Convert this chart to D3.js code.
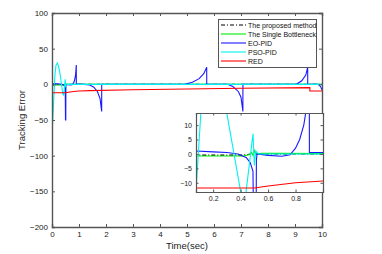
<!DOCTYPE html>
<html><head><meta charset="utf-8">
<script src="https://cdn.jsdelivr.net/npm/d3@7"></script>
<style>body{margin:0;background:#fff}svg{display:block}text{font-family:"Liberation Sans",Arial,sans-serif}</style>
</head><body><svg id="c" width="382" height="254"></svg>
<script>
const xTicks=[0,1,2,3,4,5,6,7,8,9,10];
const yTicks=[-200,-150,-100,-50,0,50,100];
const insetXTicks=[0.2,0.4,0.6,0.8];
const insetYTicks=[-10,-5,0,5,10];
const seriesNames=["The proposed method","The Single Bottleneck","EO-PID","PSO-PID","RED"];
const propT=[0,0.02,0.075,0.4,0.45,0.5,0.52,0.6,1,10];
const propV=[0,-1,-0.4,-0.4,-0.2,0.1,0,0,0,0];
const singT=[0,0.02,0.075,0.42,0.46,0.48,0.49,0.5,0.51,0.55,0.7,1,10];
const singV=[0,-1.5,-0.7,-0.7,-0.3,0.5,-0.5,1.2,0,0.2,0.2,0.1,0];
const eoT=[0,0.075,0.2,0.3,0.38,0.44,0.47,0.49,0.5,0.51,0.515,0.52,0.6,0.7,0.76,0.8,0.83,0.86,0.88,0.9,0.901,0.95,1.0,1.2,1.4,1.55,1.68,1.78,1.84,1.841,2.5,4.9,5.2,5.45,5.62,5.73,5.731,6.5,6.7,6.9,7.0,7.07,7.071,9.05,9.25,9.4,9.47,9.471,9.85,9.95,10];
const eoV=[0,1,0.7,0.5,0,-1.2,-3,-6,-50,-50,-2,0,-0.5,-0.8,-0.3,2,5,10,16,27,0.5,0.5,0.5,0,-1,-4,-10,-20,-38,0,0,0,3,8,15,24,0,0,-3,-10,-18,-38,0,0,5,13,24,0,0,-3,-8];
const psoT=[0,0.001,0.02,0.075,0.11,0.15,0.2,0.25,0.3,0.4,0.42,0.44,0.49,0.5,0.51,0.53,0.6,10];
const psoV=[0,100,-57,-13,14,27,30,24,14,-13,-15,-13,7,-4,1,0,0,0];
const redT=[0,0.001,0.5,0.6,0.8,1.0,1.4,3,5,7,9.55,9.551,10];
const redV=[0,-11.8,-11.8,-11.1,-10,-9.4,-8.8,-7.5,-6.5,-5.5,-4.6,-9.4,-9.4];

const colors=["#000000","#00ee00","#1a1aff","#00f0f0","#ff0000"];
const dashes=["4,2,1,2",null,null,null,null];
const series=[[propT,propV],[singT,singV],[eoT,eoV],[psoT,psoV],[redT,redV]].map(([t,v])=>t.map((d,i)=>[d,v[i]]));

const FF='"Liberation Sans", Arial, sans-serif';
const svg=d3.select("#c");
const M={l:52,r:322,t:13,b:227};
const x=d3.scaleLinear().domain([0,10]).range([M.l,M.r]);
const y=d3.scaleLinear().domain([-200,100]).range([M.b,M.t]);
const axCol="#555";
svg.append("defs").append("clipPath").attr("id","cm").append("rect").attr("x",M.l).attr("y",M.t).attr("width",M.r-M.l).attr("height",M.b-M.t);

function drawLines(g,xs,ys,clip){
  const line=d3.line().x(d=>xs(d[0])).y(d=>ys(d[1]));
  const gg=g.append("g").attr("clip-path","url(#"+clip+")");
  series.forEach((s,i)=>{
    gg.append("path").attr("d",line(s)).attr("fill","none").attr("stroke",colors[i]).attr("stroke-width",1.1).attr("stroke-dasharray",dashes[i]);
  });
}
drawLines(svg,x,y,"cm");

function frame(g,xs,ys,xt,yt,fs,tl,fmtx,fmty,lw){
  const [x0,x1]=xs.range(),[y0,y1]=ys.range();
  const ax=g.append("g");
  ax.append("g").attr("transform",`translate(0,${y0})`).call(d3.axisBottom(xs).tickValues(xt).tickSize(-tl).tickPadding(4).tickFormat(fmtx));
  ax.append("g").attr("transform",`translate(0,${y1})`).call(d3.axisTop(xs).tickValues(xt).tickSize(-tl).tickFormat(""));
  ax.append("g").attr("transform",`translate(${x0},0)`).call(d3.axisLeft(ys).tickValues(yt).tickSize(-tl).tickPadding(4).tickFormat(fmty));
  ax.append("g").attr("transform",`translate(${x1},0)`).call(d3.axisRight(ys).tickValues(yt).tickSize(-tl).tickFormat(""));
  ax.selectAll(".domain").attr("stroke",axCol).attr("stroke-width",lw);
  ax.selectAll(".tick line").attr("stroke",axCol);
  ax.selectAll(".tick text").attr("font-size",fs).attr("fill","#222").attr("font-family",FF);
}
frame(svg,x,y,xTicks,yTicks,8,3,d3.format("d"),d3.format("d"),1.4);

svg.append("text").attr("x",187).attr("y",249).attr("text-anchor","middle").attr("font-size",9.5).attr("fill","#222").text("Time(sec)");
svg.append("text").attr("transform","translate(25,120) rotate(-90)").attr("text-anchor","middle").attr("font-size",9.5).attr("fill","#222").text("Tracking Error");

// legend
const lg=svg.append("g");
lg.append("rect").attr("x",218.5).attr("y",19.5).attr("width",98).attr("height",48).attr("fill","#fff").attr("stroke",axCol).attr("stroke-width",1);
seriesNames.forEach((n,i)=>{
  const yy=25+i*9;
  lg.append("line").attr("x1",221).attr("x2",246).attr("y1",yy).attr("y2",yy).attr("stroke",colors[i]).attr("stroke-width",1.1).attr("stroke-dasharray",dashes[i]);
  lg.append("text").attr("x",248).attr("y",yy+2.5).attr("font-size",7).attr("fill","#111").text(n);
});

// inset
const I={l:196,r:323,t:113,b:192};
const xi=d3.scaleLinear().domain([0.075,1]).range([I.l,I.r]);
const yi=d3.scaleLinear().domain([-13.2,14.2]).range([I.b,I.t]);
svg.select("defs").append("clipPath").attr("id","ci").append("rect").attr("x",I.l).attr("y",I.t).attr("width",I.r-I.l).attr("height",I.b-I.t);
const ig=svg.append("g");
ig.append("rect").attr("x",I.l).attr("y",I.t).attr("width",I.r-I.l).attr("height",I.b-I.t).attr("fill","#fff");
drawLines(ig,xi,yi,"ci");
frame(ig,xi,yi,insetXTicks,insetYTicks,7,2.5,d3.format(".1f"),d3.format("d"),1.2);
</script></body></html>
